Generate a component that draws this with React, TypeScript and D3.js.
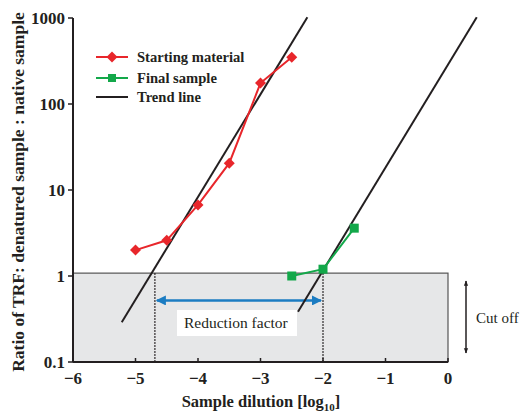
import React from "react";
import * as d3 from "d3";

const startX = [-5, -4.5, -4, -3.5, -3, -2.5];
const startY = [2.0, 2.6, 6.7, 20.5, 175, 350];
const finalX = [-2.5, -2, -1.5];
const finalY = [1.0, 1.2, 3.6];
// trend line end points [x, y]
const trend1 = [[-5.22, 0.29], [-2.25, 1020]];
const trend2 = [[-2.4, 0.385], [0.46, 1020]];
const cutoff = 1.08;
const reduction = [-4.69, -2];
const xTicks = [-6, -5, -4, -3, -2, -1, 0];
const yTicks = [0.1, 1, 10, 100, 1000];
const yTickLabels = ["0.1", "1", "10", "100", "1000"];

const W = 521;
const H = 413;
const m = { left: 73, right: 448, top: 18, bottom: 362 };
const serif = "'Liberation Serif', 'Times New Roman', serif";
const RED = "#e8262b";
const GREEN = "#13a84a";
const BLUE = "#1b7cc2";
const INK = "#231f20";

const App = () => {
  const x = d3.scaleLinear().domain([-6, 0]).range([m.left, m.right]);
  const y = d3.scaleLog().domain([0.1, 1000]).range([m.bottom, m.top]);
  const line = d3
    .line<number[]>()
    .x((d) => x(d[0]))
    .y((d) => y(d[1]));
  const startPts = startX.map((v, i) => [v, startY[i]]);
  const finalPts = finalX.map((v, i) => [v, finalY[i]]);
  // square turned 45 degrees: equal width and height
  const diamond = "M0,-5.5L5.5,0L0,5.5L-5.5,0Z";
  const arrowY = y(0.52);

  return (
    <svg width={W} height={H} style={{ position: "absolute", left: 0, top: 0 }} fontFamily={serif}>
      <defs>
        <marker id="bl" viewBox="0 0 10 10" refX="9" refY="5" markerWidth="4" markerHeight="4" orient="auto-start-reverse">
          <path d="M0,0 L10,5 L0,10 z" fill={BLUE} />
        </marker>
        <marker id="bk" viewBox="0 0 10 10" refX="9" refY="5" markerWidth="3.5" markerHeight="4.5" orient="auto-start-reverse">
          <path d="M0,1 L10,5 L0,9 z" fill={INK} />
        </marker>
      </defs>

      {/* cut off zone */}
      <rect x={x(-6)} y={y(cutoff)} width={x(0) - x(-6)} height={m.bottom - y(cutoff)} fill="#e6e7e8" stroke="#555" strokeWidth={1.2} />

      {/* reduction factor */}
      {reduction.map((r, i) => (
        <line key={i} x1={x(r)} x2={x(r)} y1={y(cutoff)} y2={m.bottom} stroke={INK} strokeWidth={1.5} strokeDasharray="1.5,1.5" />
      ))}
      <line x1={x(reduction[0]) + 2} x2={x(reduction[1]) - 2} y1={arrowY} y2={arrowY} stroke={BLUE} strokeWidth={2.5}
        markerStart="url(#bl)" markerEnd="url(#bl)" />
      <rect x={177} y={310} width={120} height={26} fill="#fff" />
      <text x={184} y={328} fontSize={15.5} fill={INK}>Reduction factor</text>

      {/* trend lines */}
      <path d={line(trend1) || ""} stroke={INK} strokeWidth={2} fill="none" />
      <path d={line(trend2) || ""} stroke={INK} strokeWidth={2} fill="none" />

      {/* series */}
      <path d={line(startPts) || ""} stroke={RED} strokeWidth={2} fill="none" />
      {startPts.map((p, i) => (
        <path key={i} d={diamond} transform={`translate(${x(p[0])},${y(p[1])})`} fill={RED} />
      ))}
      <path d={line(finalPts) || ""} stroke={GREEN} strokeWidth={2} fill="none" />
      {finalPts.map((p, i) => (
        <rect key={i} x={x(p[0]) - 4.5} y={y(p[1]) - 4.5} width={9} height={9} fill={GREEN} />
      ))}

      {/* axes */}
      <line x1={m.left} x2={m.left} y1={m.top} y2={m.bottom} stroke={INK} strokeWidth={2} />
      <line x1={m.left} x2={m.right} y1={m.bottom} y2={m.bottom} stroke={INK} strokeWidth={2} />
      {yTicks.map((t, i) => (
        <g key={t}>
          <line x1={m.left - 5} x2={m.left} y1={y(t)} y2={y(t)} stroke={INK} strokeWidth={1.5} />
          <text x={m.left - 8} y={y(t) + 6} textAnchor="end" fontSize={17} fontWeight="bold" fill={INK}>{yTickLabels[i]}</text>
        </g>
      ))}
      {xTicks.map((t) => (
        <g key={t}>
          <line x1={x(t)} x2={x(t)} y1={m.bottom} y2={m.bottom - 4} stroke={INK} strokeWidth={1.5} />
          <text x={x(t)} y={384} textAnchor="middle" fontSize={17} fontWeight="bold" fill={INK}>
            {t === 0 ? "0" : "\u2212" + Math.abs(t)}
          </text>
        </g>
      ))}
      <text x={261} y={407} textAnchor="middle" fontSize={16.5} fontWeight="bold" fill={INK}>
        Sample dilution [log<tspan fontSize={11} dy={4}>10</tspan><tspan dy={-4}>]</tspan>
      </text>
      <text transform={`translate(24,${(m.top + m.bottom) / 2 + 2}) rotate(-90)`} textAnchor="middle" fontSize={17.5} fontWeight="bold" fill={INK}>
        Ratio of TRF: denatured sample : native sample
      </text>

      {/* cut off arrow */}
      <line x1={466} x2={466} y1={281} y2={353} stroke={INK} strokeWidth={1.5} markerStart="url(#bk)" markerEnd="url(#bk)" />
      <text x={476} y={323} fontSize={15} fill={INK}>Cut off</text>

      {/* legend */}
      <line x1={96} x2={128} y1={57} y2={57} stroke={RED} strokeWidth={2} />
      <path d={diamond} transform="translate(112,57)" fill={RED} />
      <text x={137} y={62} fontSize={14.6} fontWeight="bold" fill={INK}>Starting material</text>
      <line x1={96} x2={128} y1={78} y2={78} stroke={GREEN} strokeWidth={2} />
      <rect x={108} y={74} width={8} height={8} fill={GREEN} />
      <text x={137} y={83} fontSize={14.6} fontWeight="bold" fill={INK}>Final sample</text>
      <line x1={96} x2={128} y1={97} y2={97} stroke={INK} strokeWidth={2} />
      <text x={137} y={102} fontSize={14.6} fontWeight="bold" fill={INK}>Trend line</text>
    </svg>
  );
};

export default App;
